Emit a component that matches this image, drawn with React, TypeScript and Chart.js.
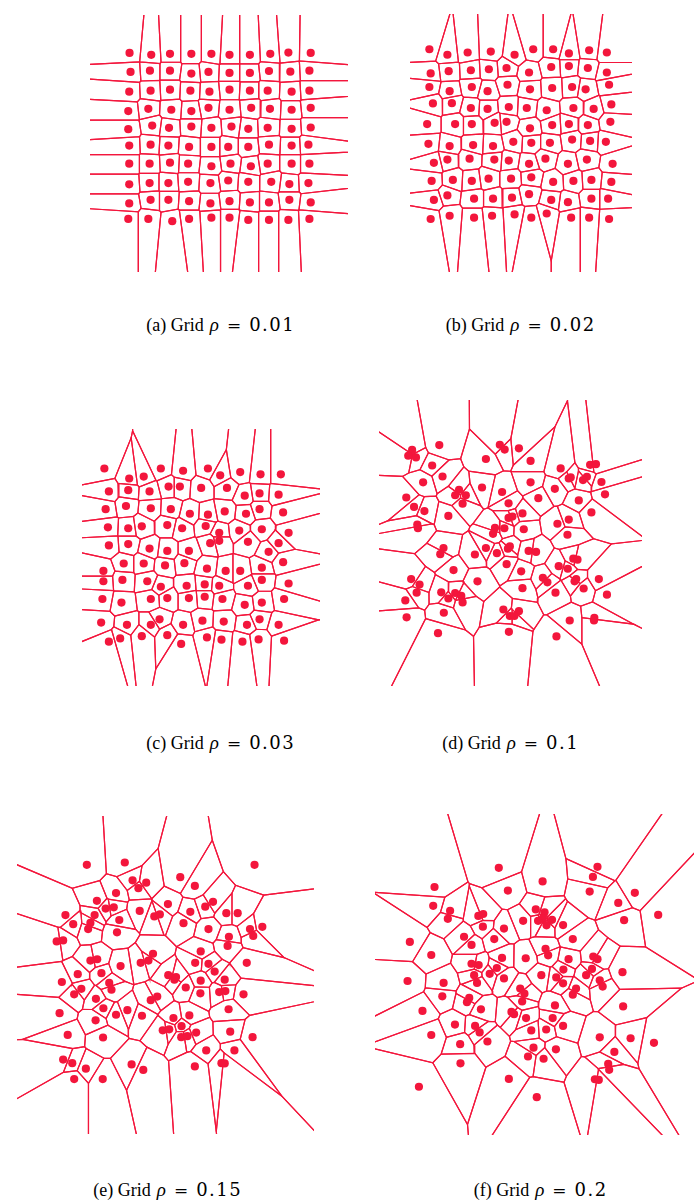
import React, { useEffect, useRef } from "react";
import { Chart, registerables } from "chart.js";
Chart.register(...registerables);

const RED = "rgb(243, 22, 60)";

// Site coordinates for each panel (arbitrary units, y grows downward)
const gridA: number[][] = [
  [125,127],[192,133],[250,130],[316,130],[378,130],[434,133],[497,133],[560,130],[616,126],[685,127],
  [128,186],[188,182],[250,182],[316,191],[369,186],[434,189],[497,189],[556,183],[622,185],[681,182],
  [124,247],[190,244],[250,241],[313,244],[372,247],[434,241],[497,244],[552,244],[626,247],[681,244],
  [121,307],[183,300],[254,303],[316,307],[369,297],[434,303],[501,297],[559,300],[626,303],[685,297],
  [121,363],[195,352],[247,359],[316,355],[378,359],[440,355],[492,362],[552,359],[626,362],[685,358],
  [124,414],[190,411],[245,414],[309,418],[378,418],[430,418],[492,418],[556,411],[626,414],[678,411],
  [124,470],[187,470],[250,467],[306,470],[378,478],[437,470],[500,478],[552,470],[626,470],[681,470],
  [124,534],[187,530],[245,530],[306,526],[375,530],[430,522],[492,526],[563,526],[619,533],[678,530],
  [124,593],[190,582],[245,582],[309,586],[375,593],[434,586],[497,590],[556,590],[619,582],[685,590],
  [121,641],[183,641],[257,648],[309,641],[378,637],[434,637],[492,644],[556,644],[616,644],[681,641],
];

const gridB: number[][] = [
  [78,115],[134,132],[197,125],[269,122],[343,132],[401,115],[463,115],[512,128],[575,118],[630,125],
  [82,190],[138,183],[207,180],[263,177],[318,173],[388,187],[457,170],[512,167],[571,173],[630,187],
  [78,232],[141,245],[210,232],[259,245],[321,225],[391,239],[460,235],[522,232],[564,239],[637,225],
  [89,283],[148,282],[207,297],[259,300],[325,294],[381,297],[443,304],[526,297],[589,300],[644,286],
  [71,347],[158,347],[210,347],[281,343],[318,340],[391,360],[460,350],[512,347],[571,350],[641,340],
  [75,408],[141,415],[214,412],[276,415],[339,402],[395,405],[453,405],[522,395],[578,399],[627,402],
  [92,467],[134,457],[203,454],[280,457],[325,460],[388,470],[439,454],[509,470],[568,457],[648,470],
  [85,523],[151,520],[210,523],[262,516],[332,516],[395,512],[463,526],[526,523],[582,520],[644,526],
  [92,582],[134,568],[217,578],[276,578],[335,575],[388,564],[457,582],[509,589],[582,578],[634,578],
  [82,641],[141,631],[217,637],[273,631],[343,627],[395,637],[443,624],[519,637],[575,637],[637,641],
];

const gridC: number[][] = [
  [77,217],[154,248],[199,242],[252,217],[321,224],[398,217],[436,238],[498,228],[561,235],[624,235],
  [91,288],[151,284],[217,288],[276,273],[311,273],[377,277],[457,277],[512,301],[558,294],[617,298],
  [81,343],[144,333],[221,340],[283,343],[342,357],[398,360],[450,350],[516,357],[558,343],[631,353],
  [88,399],[151,402],[193,396],[272,392],[318,402],[391,395],[433,416],[495,409],[565,405],[648,416],
  [91,455],[151,451],[217,465],[272,472],[339,472],[405,448],[433,441],[522,444],[586,475],[617,448],
  [74,534],[137,511],[199,511],[265,517],[325,510],[395,527],[453,534],[498,534],[565,524],[631,507],
  [74,566],[133,562],[210,566],[252,583],[332,580],[388,576],[433,580],[522,580],[565,562],[648,573],
  [71,621],[130,632],[221,621],[272,618],[339,618],[388,614],[443,621],[512,639],[565,632],[634,621],
  [67,694],[147,701],[221,701],[248,684],[321,701],[381,688],[447,691],[519,701],[558,684],[617,701],
  [91,753],[126,743],[193,736],[272,733],[315,760],[395,740],[440,747],[505,753],[555,746],[634,750],
];

const gridD: number[][] = [
  [110,162],[98,180],[122,185],[194,147],[172,210],[204,244],[144,262],[92,309],[116,338],[148,351],
  [126,393],[128,404],[222,366],[255,285],[243,302],[276,302],[266,328],[326,278],[388,292],[338,190],
  [381,146],[396,161],[440,157],[476,196],[476,262],[408,327],[500,311],[451,358],[420,368],[408,372],
  [455,407],[395,404],[366,403],[360,421],[551,282],[569,219],[594,250],[600,247],[650,245],[638,255],
  [660,208],[678,206],[695,261],[706,299],[625,318],[664,355],[594,377],[559,390],[590,424],
  [207,465],[197,484],[304,485],[338,465],[372,481],[406,467],[412,460],[470,474],[493,477],[402,515],
  [238,533],[447,537],[312,568],[563,521],[591,529],[608,498],[621,501],[107,561],[133,578],[124,603],
  [89,627],[200,602],[222,621],[243,604],[262,613],[266,633],[208,665],[93,679],[190,728],[392,655],
  [412,675],[440,660],[426,675],[451,589],[514,557],[528,571],[553,603],[617,561],[612,568],[640,590],
  [687,561],[712,609],[597,689],[673,681],[672,689],[409,724],[556,738],
];

const gridE: number[][] = [
  [230,177],[347,170],[747,177],[518,215],[563,242],[371,225],[389,249],[413,232],[320,264],[261,288],
  [288,312],[313,308],[393,319],[480,298],[438,336],[455,330],[549,322],[595,306],[619,291],[660,326],
  [695,326],[164,332],[188,360],[254,332],[241,356],[234,375],[330,347],[323,385],[528,357],[605,375],
  [668,399],[664,427],[733,375],[743,396],[771,368],[137,413],[157,410],[434,451],[581,444],[241,472],
  [262,468],[396,479],[420,472],[334,489],[564,479],[605,482],[723,479],
  [153,538],[202,514],[275,511],[213,559],[191,576],[299,541],[306,562],[258,590],[281,619],[146,634],
  [257,656],[320,639],[355,625],[400,642],[427,594],[447,583],[481,517],[500,531],[505,523],[535,555],
  [581,534],[580,573],[624,506],[655,531],[638,569],[657,566],[713,576],[667,622],[497,649],[546,641],
  [522,674],[464,687],[484,684],[521,708],[540,705],[567,694],[672,691],[741,708],[171,701],[280,709],
  [598,749],[685,749],[157,777],[185,788],[227,805],[191,837],[279,837],[368,792],[404,809],[563,798],
  [645,788],[655,789],
];

const gridF: number[][] = [
  [389,185],[693,182],[679,213],[191,244],[524,227],[417,255],[669,258],[808,262],[187,302],[757,293],
  [239,317],[232,342],[326,333],[341,327],[503,313],[530,322],[525,340],[510,348],[536,362],[553,345],
  [464,348],[587,361],[340,366],[405,372],[775,346],[880,330],[115,413],[181,453],[282,397],[305,422],
  [375,404],[617,404],[533,434],[541,454],[399,462],[472,463],[604,466],[680,458],[693,466],[305,480],
  [327,484],[383,493],[588,498],[676,496],
  [108,533],[219,539],[313,515],[322,539],[361,511],[405,525],[520,515],[566,522],[587,540],[658,515],
  [700,531],[709,550],[770,506],[215,580],[298,585],[291,598],[455,556],[468,572],[461,596],[627,556],
  [617,575],[154,625],[334,620],[428,628],[436,635],[562,608],[473,647],[555,647],[772,611],[254,667],
  [316,671],[330,691],[489,685],[535,682],[587,671],[181,699],[354,719],[270,727],[700,706],[795,709],
  [867,723],[496,738],[565,743],[745,751],[479,765],[527,772],[271,786],[726,788],[729,806],[685,835],
  [697,837],[420,834],[143,858],[506,890],
];

const captionLetters = ["(a)", "(b)", "(c)", "(d)", "(e)", "(f)"];
const rhoLabels = ["0.01", "0.02", "0.03", "0.1", "0.15", "0.2"];

// layout: page origin of each frame, and visible range in data units
const layouts = [
  { ox: 85, oy: 8, xr: [3, 800], yr: [10, 805], cx: 220, cy: 325 },
  { ox: 400, oy: 8, xr: [18, 708], yr: [6, 805], cx: 520, cy: 325 },
  { ox: 75, oy: 393, xr: [8, 745], yr: [95, 890], cx: 220, cy: 743 },
  { ox: 372, oy: 393, xr: [8, 820], yr: [8, 891], cx: 510, cy: 743 },
  { ox: 8, oy: 803, xr: [15, 930], yr: [27, 1006], cx: 167, cy: 1190 },
  { ox: 368, oy: 803, xr: [8, 990], yr: [20, 1006], cx: 540, cy: 1190 },
];
const sites = [gridA, gridB, gridC, gridD, gridE, gridF];

function clipPoly(poly: number[][], a: number, b: number, c: number): number[][] {
  const out: number[][] = [];
  const n = poly.length;
  for (let k = 0; k < n; k++) {
    const p = poly[k];
    const q = poly[(k + 1) % n];
    const fp = a * p[0] + b * p[1] - c;
    const fq = a * q[0] + b * q[1] - c;
    if (fp <= 0) out.push(p);
    if ((fp < 0 && fq > 0) || (fp > 0 && fq < 0)) {
      const t = fp / (fp - fq);
      out.push([p[0] + t * (q[0] - p[0]), p[1] + t * (q[1] - p[1])]);
    }
  }
  return out;
}

function voronoiCells(pts: number[][]): number[][][] {
  const E = 5000;
  const cells: number[][][] = [];
  for (let i = 0; i < pts.length; i++) {
    const [xi, yi] = pts[i];
    let poly = [[-E, -E], [E, -E], [E, E], [-E, E]];
    for (let j = 0; j < pts.length; j++) {
      if (j === i) continue;
      const [xj, yj] = pts[j];
      const a = xj - xi, b = yj - yi;
      if (a === 0 && b === 0) continue;
      const c = a * (xi + xj) / 2 + b * (yi + yj) / 2;
      poly = clipPoly(poly, a, b, c);
      if (poly.length === 0) break;
    }
    if (poly.length > 1) cells.push(poly);
  }
  return cells;
}

function Panel({ pts, lay }: { pts: number[][]; lay: any }) {
  const ref = useRef<HTMLCanvasElement>(null);
  const w = Math.round((lay.xr[1] - lay.xr[0]) / 3);
  const h = Math.round((lay.yr[1] - lay.yr[0]) / 3);
  const left = Math.round(lay.ox + lay.xr[0] / 3);
  const top = Math.round(lay.oy + lay.yr[0] / 3);
  useEffect(() => {
    if (!ref.current) return;
    const cells = voronoiCells(pts);
    const datasets: any[] = [
      {
        data: pts.map(([x, y]) => ({ x, y })),
        pointRadius: 4.1,
        pointBackgroundColor: RED,
        pointBorderWidth: 0,
        showLine: false,
        order: 0,
      },
      ...cells.map((c) => ({
        data: [...c, c[0]].map(([x, y]) => ({ x, y })),
        showLine: true,
        borderColor: RED,
        borderWidth: 1.2,
        pointRadius: 0,
        fill: false,
        tension: 0,
        order: 1,
      })),
    ];
    const chart = new Chart(ref.current, {
      type: "scatter",
      data: { datasets },
      options: {
        animation: false,
        responsive: false,
        events: [],
        layout: { padding: 0 },
        plugins: { legend: { display: false }, tooltip: { enabled: false } },
        scales: {
          x: { type: "linear", min: lay.xr[0], max: lay.xr[1], display: false },
          y: { type: "linear", min: lay.yr[0], max: lay.yr[1], reverse: true, display: false },
        },
      },
    });
    return () => chart.destroy();
  }, []);
  return (
    <canvas
      ref={ref}
      width={w}
      height={h}
      style={{ position: "absolute", left, top, width: w, height: h }}
    />
  );
}

const serif = "'Liberation Serif', 'DejaVu Serif', serif";

export default function App() {
  return (
    <div style={{ position: "absolute", left: 0, top: 0, width: 698, height: 1202, background: "#fff" }}>
      {sites.map((pts, i) => (
        <Panel key={i} pts={pts} lay={layouts[i]} />
      ))}
      {layouts.map((lay, i) => (
        <div
          key={"c" + i}
          style={{
            position: "absolute",
            left: lay.cx - 150,
            top: lay.cy - 12,
            width: 300,
            textAlign: "center",
            fontFamily: serif,
            fontSize: 18,
            lineHeight: "24px",
            color: "#000",
            whiteSpace: "nowrap",
          }}
        >
          <span>{captionLetters[i]} Grid</span>
          <span style={{ fontStyle: "italic", marginLeft: 6, fontSize: 19 }}>ρ</span>
          <span style={{ fontFamily: "'DejaVu Serif', serif", fontSize: 17, marginLeft: 8 }}>=</span>
          <span style={{ fontFamily: "'DejaVu Serif', serif", fontSize: 18, letterSpacing: 1.5, marginLeft: 8, marginRight: -1.5 }}>{rhoLabels[i]}</span>
        </div>
      ))}
    </div>
  );
}
